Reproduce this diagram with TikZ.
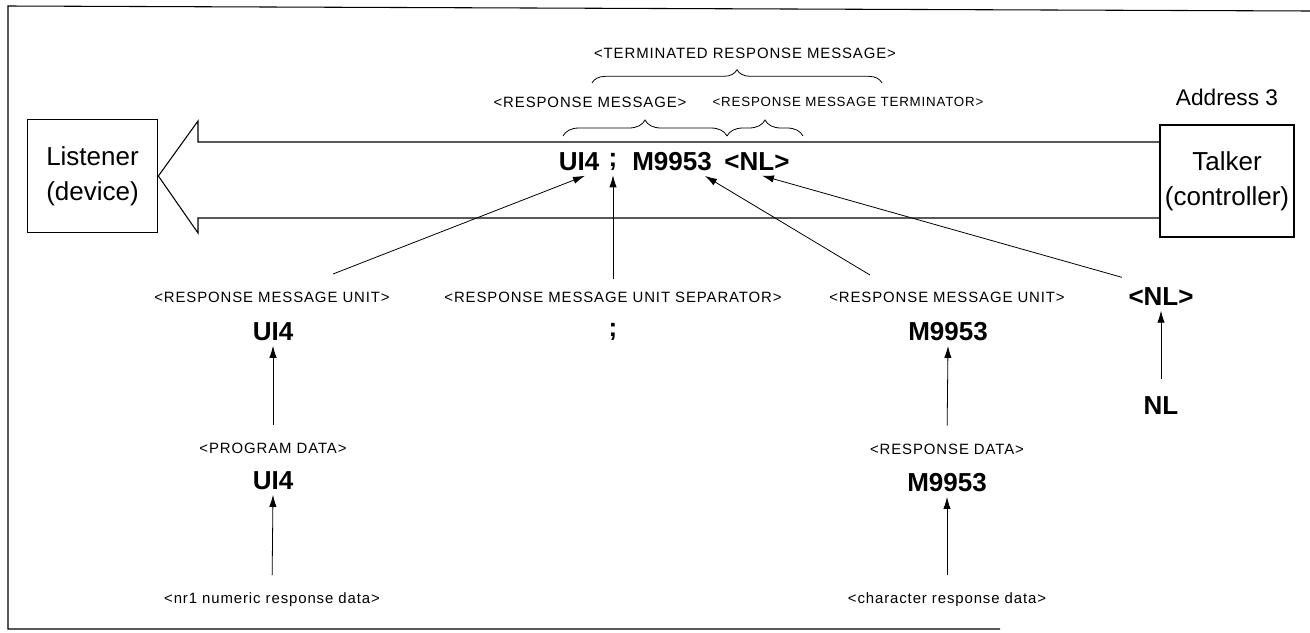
\documentclass[tikz,border=0pt]{standalone}
\usepackage{fontspec}
\setmainfont{Liberation Sans}
\newfontfamily\lblfont{Liberation Sans}[LetterSpace=6]
\usetikzlibrary{arrows.meta,calc,decorations.pathreplacing}

\begin{document}
\begin{tikzpicture}[x=0.75pt,y=-0.75pt]
    \tikzset{unit/.style = {draw,line width=.8pt,minimum width=98pt,minimum height=85pt,align=center,inner sep=0pt,font=\fontsize{19.5}{26}\selectfont},
      lbl/.style = {font=\lblfont\fontsize{11.2}{13}\selectfont},
      tok/.style = {font=\fontsize{19.5}{22}\selectfont\bfseries},
      arr/.style = {-{Latex[length=9pt,width=5.5pt]},line width=.6pt},
      brc/.style = {decorate,decoration={brace,amplitude=#1},line width=.6pt}}
    \useasboundingbox (0,0) rectangle (1310,632);
    % frame
    \draw[line width=.8pt] (1310,11) -- (8,6) -- (8,629) -- (1000,629);
    % talker and listener
     \node[unit] (listener) at (92.5,176) {Listener\\(device)};
     \node[unit,minimum width=100.5pt,minimum height=84pt] (talker) at (1227,181) {Talker\\(controller)};
     \node[font=\fontsize{17}{20}\selectfont] (addr) at (1227,97) {Address 3};
     \draw[line width=.8pt] (1160,142) -- (198,142) -- (198,121) -- (listener.east) -- (198,233) -- (198,218) -- (1160,218);

    % message and braces
     \node[tok] (cui) at (579,162) {UI4};
     \node[tok] (csep) at (613,162) {;};
     \node[tok] (cm) at (672,162) {M9953};
     \node[tok] (cnl) at (757,162) {<NL>};
     \node[lbl] (term) at (745,53) {<TERMINATED RESPONSE MESSAGE>};
     \node[lbl] (rmsg) at (590,102) {<RESPONSE MESSAGE>};
     \node[lbl,font=\lblfont\fontsize{10}{12}\selectfont] (rterm) at (848,102) {<RESPONSE MESSAGE TERMINATOR>};
     \draw[brc=10pt] (592,83) -- (882,83);
     \draw[brc=12pt] (563,136) -- (727,136);
     \draw[brc=12pt] (727,136) -- (803,136);

    % first level
     \node[lbl] (rmu1) at (272,297) {<RESPONSE MESSAGE UNIT>};
     \node[lbl] (rmus) at (613,297) {<RESPONSE MESSAGE UNIT SEPARATOR>};
     \node[lbl] (rmu2) at (947,297) {<RESPONSE MESSAGE UNIT>};
     \node[tok] (nl1) at (1161,297) {<NL>};
     \node[tok] (ui1) at (273,332) {UI4};
     \node[tok] (semi) at (613,332) {;};
     \node[tok] (m1) at (948,332) {M9953};
     \node[tok] (nl2) at (1161,406) {NL};

    % second level
     \node[lbl] (pd) at (273,448) {<PROGRAM DATA>};
     \node[tok] (ui2) at (273,481) {UI4};
     \node[lbl] (rd) at (947,449) {<RESPONSE DATA>};
     \node[tok] (m2) at (947,483) {M9953};
     \node[lbl] (nr1) at (272,600) {<nr1 numeric response data>};
     \node[lbl] (chr) at (947,600) {<character response data>};

    % arrows
    \draw[arr] ($(rmu1.north)+(61,-13)$) -- ($(cui.south)+(6,0)$);
    \draw[arr,shorten <=6pt] (rmus.north) -- (csep.south);
    \draw[arr] ($(rmu2.north)+(-77,-12)$) -- ($(cm.south)+(33,0)$);
    \draw[arr] ($(nl1.north)+(-39,-6)$) -- ($(cnl.south)+(5,0)$);
    \draw[arr,shorten <=10pt] (pd.north) -- (ui1.south);
    \draw[arr,shorten <=10pt] (rd.north) -- (m1.south);
    \draw[arr,shorten <=10pt] (nl2.north) -- (nl1.south);
    \draw[arr,shorten <=10pt] (nr1.north) -- (ui2.south);
    \draw[arr,shorten <=10pt] (chr.north) -- (m2.south);
\end{tikzpicture}
\end{document}
